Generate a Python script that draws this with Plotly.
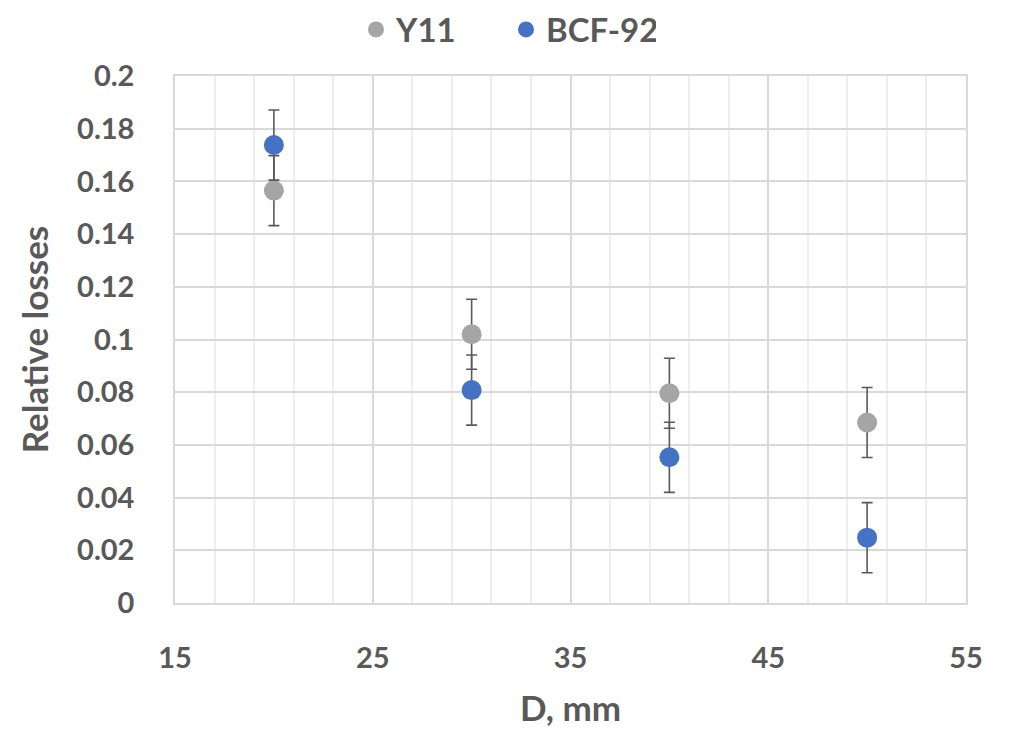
import plotly.graph_objects as go

d_mm = [20, 30, 40, 50]
y11 = [0.1565, 0.102, 0.0796, 0.0685]
bcf92 = [0.1738, 0.0808, 0.0553, 0.0248]
err = 0.0133

x_ticks = [15, 25, 35, 45, 55]
y_ticks = [0, 0.02, 0.04, 0.06, 0.08, 0.1, 0.12, 0.14, 0.16, 0.18, 0.2]
y_tick_text = ["0", "0.02", "0.04", "0.06", "0.08", "0.1", "0.12", "0.14", "0.16", "0.18", "0.2"]

txt = "#595959"
fig = go.Figure()
for name, vals, col in [("Y11", y11, "#A5A5A5"), ("BCF-92", bcf92, "#4472C4")]:
    fig.add_trace(go.Scatter(
        x=d_mm, y=vals, mode="markers", name=name,
        marker=dict(size=20, color=col),
        error_y=dict(type="constant", value=err, color="#595959", thickness=1.6, width=5.5),
    ))

fig.update_layout(
    width=1012, height=732,
    margin=dict(l=175, r=46, t=76, b=129, autoexpand=False),
    paper_bgcolor="white", plot_bgcolor="white",
    font=dict(family="Lato", color=txt, size=29, weight="bold"),
    showlegend=True,
    legend=dict(orientation="h", x=0.5, xref="container", xanchor="center",
                y=0.998, yref="container", yanchor="top",
                font=dict(size=33, color=txt, weight="bold"), itemsizing="trace",
                itemwidth=30, entrywidth=105, entrywidthmode="pixels"),
    xaxis=dict(range=[15, 55], tickvals=x_ticks, ticktext=[str(v) for v in x_ticks],
               showgrid=True, gridcolor="#d9d9d9", gridwidth=1.5,
               minor=dict(dtick=2, tick0=15, showgrid=True, gridcolor="#eeeeee", gridwidth=1.5),
               showline=True, linecolor="#d9d9d9", linewidth=1.5, mirror=True,
               ticks="", zeroline=False, ticklabelstandoff=28,
               title=dict(text="D, mm", font=dict(size=35, color=txt, weight="bold"), standoff=24)),
    yaxis=dict(range=[0, 0.2], tickvals=y_ticks, ticktext=y_tick_text,
               showgrid=True, gridcolor="#d9d9d9", gridwidth=1.5,
               showline=True, linecolor="#d9d9d9", linewidth=1.5, mirror=True,
               ticks="", zeroline=False, ticklabelstandoff=33,
               title=dict(text="Relative losses", font=dict(size=35, color=txt, weight="bold"), standoff=18)),
)
fig.write_html("out.html")
